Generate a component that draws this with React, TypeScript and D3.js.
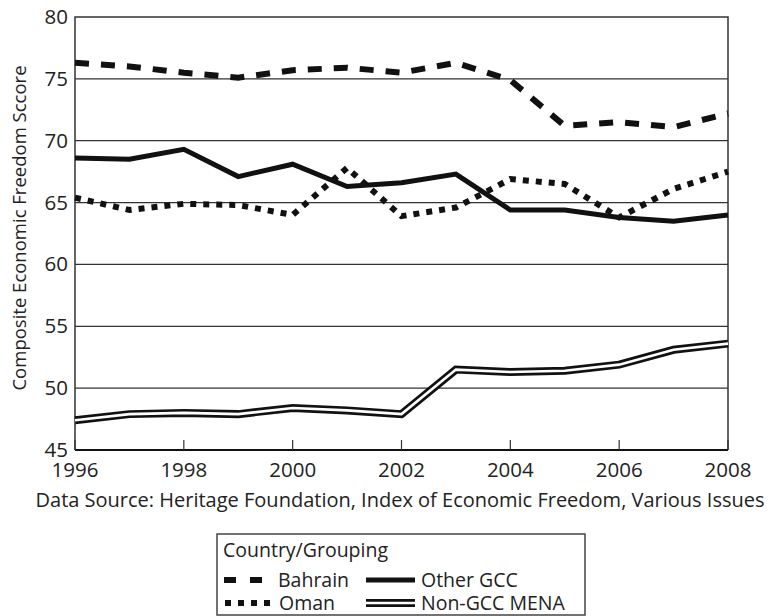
import React from 'react';
import * as d3 from 'd3';

const years = [1996, 1997, 1998, 1999, 2000, 2001, 2002, 2003, 2004, 2005, 2006, 2007, 2008];
const bahrain = [76.3, 76.0, 75.5, 75.1, 75.7, 75.9, 75.5, 76.3, 74.9, 71.2, 71.5, 71.1, 72.2];
const oman = [65.4, 64.4, 64.9, 64.8, 64.0, 67.8, 63.9, 64.6, 66.9, 66.5, 63.8, 66.1, 67.5];
const otherGcc = [68.6, 68.5, 69.3, 67.1, 68.1, 66.3, 66.6, 67.3, 64.4, 64.4, 63.8, 63.5, 64.0];
const nonGccMena = [47.4, 47.9, 48.0, 47.9, 48.4, 48.2, 47.9, 51.5, 51.3, 51.4, 51.9, 53.1, 53.6];
const yTicks = [45, 50, 55, 60, 65, 70, 75, 80];
const xTicks = [1996, 1998, 2000, 2002, 2004, 2006, 2008];

const font = '"Open Sans", sans-serif';

const useD3 = (renderChart: any, dependencies: any[]) => {
  const ref = React.useRef<SVGSVGElement>(null);
  React.useEffect(() => {
    renderChart(d3.select(ref.current));
  }, dependencies);
  return ref;
};

const renderChart = (svg: any) => {
  const margin = { top: 17, right: 45, bottom: 166, left: 75 };
  const width = 773;
  const height = 616;

  svg.selectAll('*').remove();

  const x = d3.scaleLinear().domain([1996, 2008]).range([margin.left, width - margin.right]);
  const y = d3.scaleLinear().domain([45, 80]).range([height - margin.bottom, margin.top]);

  // grid
  svg.append('g')
    .selectAll('line')
    .data(yTicks.slice(1, -1))
    .join('line')
    .attr('x1', x(1996)).attr('x2', x(2008))
    .attr('y1', (d: number) => y(d)).attr('y2', (d: number) => y(d))
    .attr('stroke', '#333').attr('stroke-width', 1.2);

  // frame
  svg.append('path')
    .attr('d', `M${x(1996)},${y(45)}V${y(80)}H${x(2008)}V${y(45)}`)
    .attr('fill', 'none').attr('stroke', '#333').attr('stroke-width', 1.5);

  // x axis
  const xAxis = svg.append('g');
  xAxis.append('line')
    .attr('x1', x(1996)).attr('x2', x(2008))
    .attr('y1', y(45)).attr('y2', y(45))
    .attr('stroke', '#111').attr('stroke-width', 2);
  xAxis.selectAll('.tick')
    .data(xTicks)
    .join('line')
    .attr('x1', (d: number) => x(d)).attr('x2', (d: number) => x(d))
    .attr('y1', y(45)).attr('y2', y(45) - 10)
    .attr('stroke', '#333').attr('stroke-width', 1.2);
  xAxis.selectAll('text')
    .data(xTicks)
    .join('text')
    .attr('x', (d: number) => x(d)).attr('y', y(45) + 27)
    .attr('text-anchor', 'middle')
    .attr('font-family', font).attr('font-size', 20.5).attr('fill', '#222')
    .text((d: number) => String(d));

  // y axis labels
  svg.append('g')
    .selectAll('text')
    .data(yTicks)
    .join('text')
    .attr('x', x(1996) - 7).attr('y', (d: number) => y(d) + 7)
    .attr('text-anchor', 'end')
    .attr('font-family', font).attr('font-size', 20.5).attr('fill', '#222')
    .text((d: number) => String(d));

  svg.append('text')
    .attr('transform', `translate(26, 228) rotate(-90)`)
    .attr('text-anchor', 'middle')
    .attr('font-family', font).attr('font-size', 18.5).attr('fill', '#222')
    .text('Composite Economic Freedom Sccore');

  const line = d3.line<number>()
    .x((_, i) => x(years[i]))
    .y(d => y(d));

  const plot = svg.append('g');

  // non-GCC MENA: double line
  plot.append('path').attr('d', line(nonGccMena))
    .attr('fill', 'none').attr('stroke', '#111').attr('stroke-width', 8);
  plot.append('path').attr('d', line(nonGccMena))
    .attr('fill', 'none').attr('stroke', '#fff').attr('stroke-width', 2.6);

  plot.append('path').attr('d', line(otherGcc))
    .attr('fill', 'none').attr('stroke', '#111').attr('stroke-width', 5);

  plot.append('path').attr('d', line(oman))
    .attr('fill', 'none').attr('stroke', '#111').attr('stroke-width', 6)
    .attr('stroke-dasharray', '6,7');

  plot.append('path').attr('d', line(bahrain))
    .attr('fill', 'none').attr('stroke', '#111').attr('stroke-width', 6)
    .attr('stroke-dasharray', '14,12');

  // source
  svg.append('text')
    .attr('x', 400).attr('y', 507)
    .attr('text-anchor', 'middle')
    .attr('font-family', font).attr('font-size', 20).attr('fill', '#222')
    .text('Data Source: Heritage Foundation, Index of Economic Freedom, Various Issues');

  // legend
  const lg = svg.append('g');
  lg.append('rect')
    .attr('x', 217).attr('y', 534).attr('width', 368).attr('height', 81)
    .attr('fill', 'none').attr('stroke', '#444').attr('stroke-width', 1.5);
  lg.append('text')
    .attr('x', 223).attr('y', 557)
    .attr('font-family', font).attr('font-size', 19.5).attr('fill', '#222')
    .text('Country/Grouping');

  const rowY = [580, 603];
  const sample = (g: any, x0: number, x1: number, yy: number, kind: string) => {
    if (kind === 'double') {
      g.append('line').attr('x1', x0).attr('x2', x1).attr('y1', yy).attr('y2', yy)
        .attr('stroke', '#111').attr('stroke-width', 8);
      g.append('line').attr('x1', x0).attr('x2', x1).attr('y1', yy).attr('y2', yy)
        .attr('stroke', '#fff').attr('stroke-width', 2.6);
      return;
    }
    const l = g.append('line').attr('x1', x0).attr('x2', x1).attr('y1', yy).attr('y2', yy)
      .attr('stroke', '#111').attr('stroke-width', kind === 'solid' ? 5 : 6);
    if (kind === 'dash') l.attr('stroke-dasharray', '12,14');
    if (kind === 'dot') l.attr('stroke-dasharray', '6,7');
  };

  sample(lg, 224, 262, rowY[0], 'dash');
  sample(lg, 225, 270, rowY[1], 'dot');
  sample(lg, 366, 415, rowY[0], 'solid');
  sample(lg, 366, 415, rowY[1], 'double');

  const labels = [
    { text: 'Bahrain', x: 278, y: rowY[0] },
    { text: 'Oman', x: 279, y: rowY[1] },
    { text: 'Other GCC', x: 421, y: rowY[0] },
    { text: 'Non-GCC MENA', x: 421, y: rowY[1] },
  ];
  lg.selectAll('.lbl')
    .data(labels)
    .join('text')
    .attr('x', (d: any) => d.x).attr('y', (d: any) => d.y + 7)
    .attr('font-family', font).attr('font-size', 19.5).attr('fill', '#222')
    .text((d: any) => d.text);
};

const App: React.FC = () => {
  const ref = useD3(renderChart, []);
  return (
    <svg
      ref={ref}
      width={773}
      height={616}
      style={{ position: 'absolute', left: 0, top: 0, background: '#fff' }}
    />
  );
};

export default App;
